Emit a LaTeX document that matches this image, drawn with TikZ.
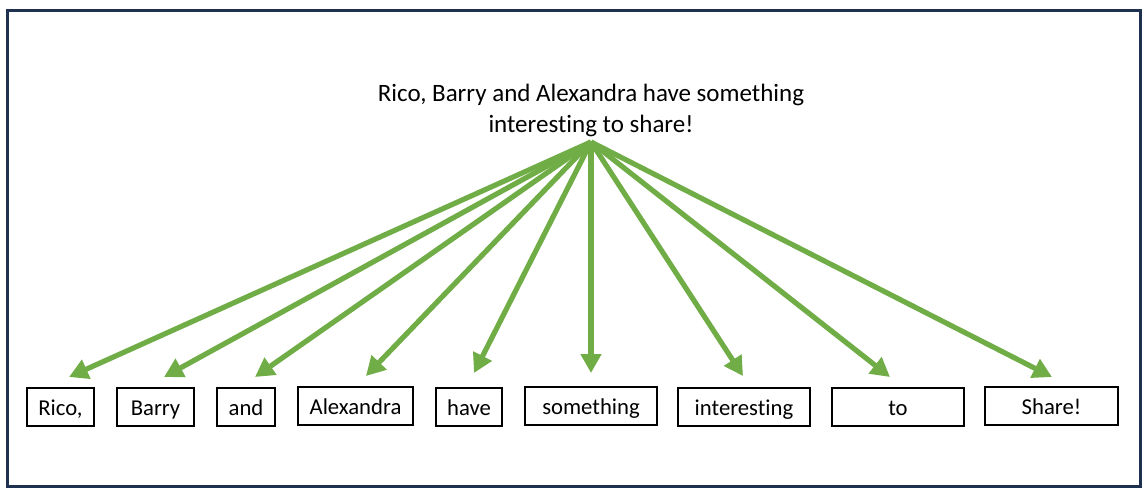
\documentclass[tikz,border=0pt]{standalone}
\usepackage{fontspec}
\setmainfont[Ligatures={NoCommon}]{Carlito}
\usetikzlibrary{arrows.meta}
\definecolor{framenavy}{HTML}{1F3150}
\definecolor{arrowgreen}{HTML}{70AD47}
\tikzset{
  wordbox/.style={draw=black, line width=2pt, inner sep=0pt, minimum height=38pt,
    text height=20pt, text depth=4pt, font=\fontsize{22.7}{27}\selectfont},
  fanarrow/.style={draw=arrowgreen, line width=5.2pt,
    -{Triangle[length=19pt,width=20pt]}},
  titletext/.style={align=center, inner sep=0pt, font=\fontsize{25}{31}\selectfont}
}
\begin{document}
\begin{tikzpicture}[x=1pt,y=-1pt]
\useasboundingbox (0,0) rectangle (1148,492);
\draw[framenavy, line width=3pt] (7,11) rectangle (1140,486);
\node[titletext, anchor=north] (title) at (591,83.5)
  {Rico, Barry and Alexandra have something\\interesting to share!};
\coordinate (src) at (591,142);
\node[wordbox, minimum width=67pt] (w1) at (60.5,407) {Rico,};
\node[wordbox, minimum width=77pt] (w2) at (155.5,407) {Barry};
\node[wordbox, minimum width=58pt] (w3) at (246,407) {and};
\node[wordbox, minimum width=115pt] (w4) at (355.5,406) {Alexandra};
\node[wordbox, minimum width=66pt] (w5) at (469,407) {have};
\node[wordbox, minimum width=132pt] (w6) at (591,406) {something};
\node[wordbox, minimum width=132pt] (w7) at (744,407) {interesting};
\node[wordbox, minimum width=132pt] (w8) at (898,407) {to};
\node[wordbox, minimum width=133pt] (w9) at (1051.5,406) {Share!};
\coordinate (t1) at (69,377);
\coordinate (t2) at (164,377);
\coordinate (t3) at (255,377);
\coordinate (t4) at (366,376);
\coordinate (t5) at (474,373);
\coordinate (t6) at (591,373);
\coordinate (t7) at (743,376);
\coordinate (t8) at (890,377);
\coordinate (t9) at (1052,377);
\foreach \i in {1,...,9} {\draw[fanarrow] (src) -- (t\i);}
\end{tikzpicture}
\end{document}
